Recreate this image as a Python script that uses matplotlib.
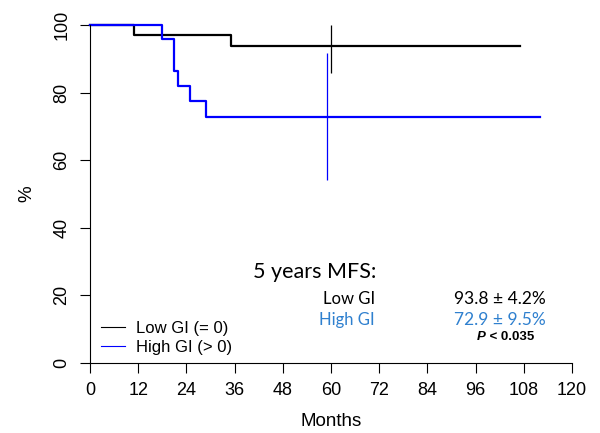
import matplotlib
matplotlib.use("Agg")
import matplotlib.pyplot as plt

# Kaplan-Meier style step data (months, % event-free)
low_t = [0, 11, 35, 107]
low_s = [100, 97.0, 93.8, 93.8]
high_t = [0, 18, 21, 22, 25, 29, 112]
high_s = [100, 95.8, 86.5, 82.0, 77.4, 72.9, 72.9]

# 95% CI bars at 5 years
low_ci_x, low_ci = 60, (85.7, 100)
high_ci_x, high_ci = 59, (54.2, 91.6)

x_ticks = [0, 12, 24, 36, 48, 60, 72, 84, 96, 108, 120]
y_ticks = [0, 20, 40, 60, 80, 100]

LOW_C = "black"
HIGH_C = "#0000ff"
TXT_BLUE = "#2f80cf"

plt.rcParams["font.family"] = ["Liberation Sans", "DejaVu Sans"]

fig = plt.figure(figsize=(6, 4.33), dpi=100)
ax = fig.add_axes([90 / 600, 70 / 433, 482 / 600, 338 / 433])
ax.set_xlim(0, 120)
ax.set_ylim(0, 100)

ax.step(low_t, low_s, where="post", color=LOW_C, lw=1.6, clip_on=False)
ax.step(high_t, high_s, where="post", color=HIGH_C, lw=1.6, clip_on=False)
ax.vlines(low_ci_x, *low_ci, color=LOW_C, lw=0.9, clip_on=False)
ax.vlines(high_ci_x, *high_ci, color=HIGH_C, lw=0.9, clip_on=False)

for s in ["top", "right"]:
    ax.spines[s].set_visible(False)
for s in ["left", "bottom"]:
    ax.spines[s].set_linewidth(0.8)
ax.set_xticks(x_ticks)
ax.set_yticks(y_ticks)
ax.tick_params(direction="out", length=7, width=0.8, labelsize=13, pad=7)
for lab in ax.get_yticklabels():
    lab.set_rotation(90)
    lab.set_va("center")
ax.set_xlabel("Months", fontsize=13.5, labelpad=10)
ax.set_ylabel("%", fontsize=13.5, labelpad=13)

# legend
leg = ax.legend(["Low GI (= 0)", "High GI (> 0)"], loc="lower left",
                bbox_to_anchor=(-0.008, -0.02), frameon=False, fontsize=12,
                handlelength=1.45, handletextpad=0.65, labelspacing=0.25)
leg.get_lines()[0].set_linewidth(0.8)
leg.get_lines()[1].set_linewidth(0.8)

# annotation block
def fx(px):
    return (px - 90) / 482 * 120

def fy(py):
    return (363 - py) / 338 * 100

tf = ["Lato", "DejaVu Sans"]
ax.text(fx(253), fy(272), "5 years MFS:", fontsize=15.5, family=tf, va="center", ha="left")
ax.text(fx(375), fy(299), "Low GI", fontsize=12, family=tf, va="center", ha="right")
ax.text(fx(375), fy(320), "High GI", fontsize=12, family=tf, va="center", ha="right", color=TXT_BLUE)
ax.text(fx(546), fy(299), "93.8 \u00b1 4.2%", fontsize=12.5, family=tf, va="center", ha="right")
ax.text(fx(546), fy(320), "72.9 \u00b1 9.5%", fontsize=12.5, family=tf, va="center", ha="right", color=TXT_BLUE)
ax.text(fx(486), fy(337), "P", fontsize=9.5, weight="bold", style="italic", va="center", ha="right")
ax.text(fx(486), fy(337), " < 0.035", fontsize=9.5, weight="bold", va="center", ha="left")

fig.savefig("out.png", dpi=100)
